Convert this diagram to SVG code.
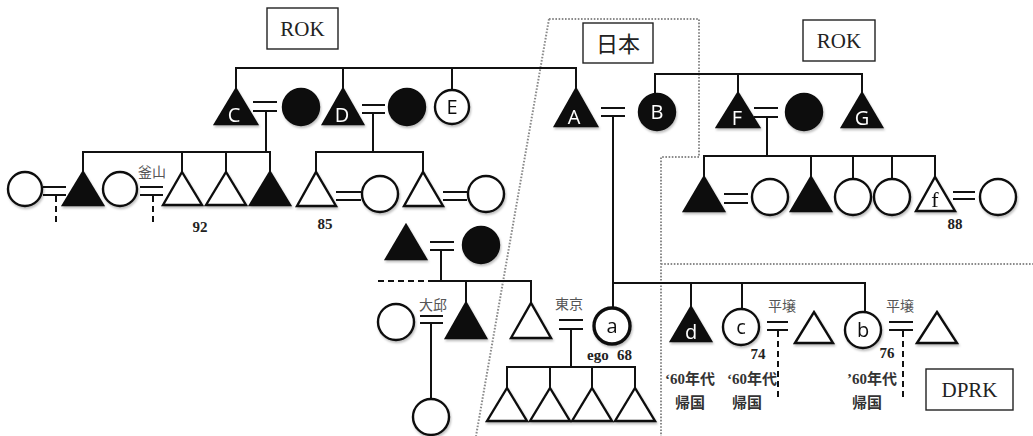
<svg xmlns="http://www.w3.org/2000/svg" width="1033" height="436" viewBox="0 0 1033 436">
  <style>
    .tri, .cir { stroke: #111; stroke-width: 2.4; }
    .f { fill: #111; }
    .o { fill: #fff; }
    .shapes { filter: url(#soft); }
    .ln { stroke: #111; stroke-width: 2; fill: none; }
    .dash { stroke: #111; stroke-width: 2; stroke-dasharray: 6 4; fill: none; }
    .dot { stroke: #8a8a8a; stroke-width: 2; stroke-dasharray: 1.6 1.6; fill: none; }
    .box { fill: #fff; stroke: #222; stroke-width: 1.4; }
    .boxt { font-family: "Liberation Serif", serif; font-size: 21px; fill: #222; text-anchor: middle; }
    .let { font-family: "Open Sans", "Liberation Sans", sans-serif; font-size: 20px; text-anchor: middle; }
    .wl { fill: #fff; }
    .bl { fill: #111; }
    .num { font-family: "Liberation Serif", serif; font-weight: bold; font-size: 15px; fill: #222; text-anchor: middle; }
    .st { text-anchor: start; }
    .en { text-anchor: end; }
    .place { font-family: "Noto Sans CJK JP", sans-serif; font-size: 14px; fill: #555; text-anchor: middle; }
    .ret { font-family: "Liberation Serif", "Noto Sans CJK JP", serif; font-weight: bold; font-size: 15px; fill: #333; text-anchor: middle; }
  </style>
  <defs>
    <filter id="soft" x="-20%" y="-20%" width="140%" height="150%">
      <feDropShadow dx="1" dy="2" stdDeviation="1.3" flood-color="#000" flood-opacity="0.25"/>
    </filter>
  </defs>
  <rect width="1033" height="436" fill="#fff"/>

  <!-- country borders -->
  <g id="borders">
    <path class="dot" d="M549 19 L476 436"/>
    <path class="dot" d="M549 19 H699 V157 H661 V436"/>
    <path class="dot" d="M661 264 H1033"/>
  </g>

  <!-- country labels -->
  <g id="label-rok-left"><rect class="box" x="267" y="8" width="71" height="41"/><text class="boxt" x="302.5" y="36">ROK</text></g>
  <g id="label-japan"><rect class="box" x="583" y="23" width="70" height="40"/><text x="618" y="52" font-family="'Noto Sans CJK JP', sans-serif" font-size="22" fill="#222" text-anchor="middle">日本</text></g>
  <g id="label-rok-right"><rect class="box" x="803" y="20" width="72" height="41"/><text class="boxt" x="839" y="48">ROK</text></g>
  <g id="label-dprk"><rect class="box" x="926" y="369" width="87" height="41"/><text class="boxt" x="969.5" y="397">DPRK</text></g>

  <!-- kinship lines -->
  <g id="connectors">
    <!-- siblings C, D, E, A -->
    <path class="ln" d="M236 89 V68 H576 V89 M343 68 V89 M452 68 V90"/>
    <!-- C marriage and children -->
    <path class="ln" d="M253 102 H277 M253 111 H277 M266 111 V152"/>
    <path class="ln" d="M83 172 V152 H270 V172 M182 152 V172 M226 152 V172"/>
    <path class="ln" d="M43 187 H66 M43 195 H66 M140 187 H163 M140 195 H163"/>
    <path class="dash" d="M56 196 V222 M153 196 V222"/>
    <!-- D marriage and children -->
    <path class="ln" d="M362 105 H385 M362 113 H385 M373 113 V152"/>
    <path class="ln" d="M316 172 V152 H423 V172"/>
    <path class="ln" d="M336 192 H361 M336 200 H361 M443 192 H467 M443 200 H467"/>
    <!-- A, B marriage and children -->
    <path class="ln" d="M601 108 H625 M601 116 H625 M613 116 V283 H865 V312 M691 283 V307 M742 283 V309 M613 283 V308"/>
    <!-- siblings B, F, G -->
    <path class="ln" d="M655 94 V74 H862 V93 M738 74 V93"/>
    <!-- F marriage and children -->
    <path class="ln" d="M754 108 H778 M754 117 H778 M767 117 V156"/>
    <path class="ln" d="M704 177 V156 H935 V177 M811 156 V177 M853 156 V179 M892 156 V179"/>
    <path class="ln" d="M724 194 H748 M724 203 H748 M953 192 H975 M953 199 H975"/>
    <!-- middle couple and children -->
    <path class="ln" d="M430 242 H454 M430 250 H454 M441 250 V281"/>
    <path class="dash" d="M378 281 H430"/>
    <path class="ln" d="M430 281 H531 V303 M466 281 V303"/>
    <path class="ln" d="M420 316 H443 M420 323 H443 M431 323 V399"/>
    <!-- ego marriage and children -->
    <path class="ln" d="M559 320 H583 M559 329 H583 M571 329 V367"/>
    <path class="ln" d="M507 388 V367 H635 V388 M550 367 V388 M592 367 V388"/>
    <!-- c, b marriages -->
    <path class="ln" d="M767 322 H788 M767 330 H788 M889 322 H913 M889 330 H913"/>
    <path class="dash" d="M778 331 V398 M903 331 V398"/>
  </g>

  <g class="shapes">
    <!-- generation 1 -->
    <g id="C"><polygon class="tri f" points="215,124 236,89 257,124"/><text class="let wl" x="234" y="122">C</text></g>
    <g id="C-wife"><circle class="cir f" cx="301" cy="107" r="18"/></g>
    <g id="D"><polygon class="tri f" points="323,124 343,89 363,124"/><text class="let wl" x="342" y="122">D</text></g>
    <g id="D-wife"><circle class="cir f" cx="407" cy="107" r="18"/></g>
    <g id="E"><circle class="cir o" cx="452" cy="107" r="17"/><text class="let bl" x="452" y="114">E</text></g>
    <g id="A"><polygon class="tri f" points="555,126 576,89 597,126"/><text class="let wl" x="574" y="124">A</text></g>
    <g id="B"><circle class="cir f" cx="657" cy="112" r="18"/><text class="let wl" x="657" y="119">B</text></g>
    <g id="F"><polygon class="tri f" points="717,127 738,93 759,127"/><text class="let wl" x="737" y="125">F</text></g>
    <g id="F-wife"><circle class="cir f" cx="804" cy="112" r="18"/></g>
    <g id="G"><polygon class="tri f" points="842,127 862,93 882,127"/><text class="let wl" x="862" y="125">G</text></g>

    <!-- C's children and spouses -->
    <g id="c1-wife"><circle class="cir o" cx="25" cy="189" r="17"/></g>
    <g id="c1"><polygon class="tri f" points="63,205 83,172 103,205"/></g>
    <g id="c2-wife"><circle class="cir o" cx="120" cy="189" r="17"/></g>
    <g id="c2"><polygon class="tri o" points="163,205 182,172 202,205"/></g>
    <g id="c3"><polygon class="tri o" points="206,205 226,172 246,205"/></g>
    <g id="c4"><polygon class="tri f" points="250,205 270,172 290,205"/></g>

    <!-- D's children and spouses -->
    <g id="d1"><polygon class="tri o" points="297,206 316,172 336,206"/></g>
    <g id="d1-wife"><circle class="cir o" cx="380" cy="194" r="18"/></g>
    <g id="d2"><polygon class="tri o" points="404,206 423,172 443,206"/></g>
    <g id="d2-wife"><circle class="cir o" cx="486" cy="194" r="18"/></g>

    <!-- F's children and spouses -->
    <g id="f1"><polygon class="tri f" points="684,211 704,177 724,211"/></g>
    <g id="f1-wife"><circle class="cir o" cx="770" cy="197" r="18"/></g>
    <g id="f2"><polygon class="tri f" points="791,211 811,177 831,211"/></g>
    <g id="f3"><circle class="cir o" cx="853" cy="197" r="18"/></g>
    <g id="f4"><circle class="cir o" cx="892" cy="197" r="18"/></g>
    <g id="f"><polygon class="tri o" points="916,211 935,177 955,211"/><text x="935" y="207" font-family="'Liberation Serif', serif" font-size="22" fill="#111" text-anchor="middle">f</text></g>
    <g id="f-wife"><circle class="cir o" cx="998" cy="197" r="18"/></g>

    <!-- middle couple -->
    <g id="m-husband"><polygon class="tri f" points="386,259 406,225 426,259"/></g>
    <g id="m-wife"><circle class="cir f" cx="481" cy="245" r="18"/></g>
    <g id="m1-wife"><circle class="cir o" cx="396" cy="322" r="18"/></g>
    <g id="m1"><polygon class="tri f" points="446,338 466,303 486,338"/></g>
    <g id="m1-child"><circle class="cir o" cx="431" cy="417" r="18"/></g>
    <g id="ego-husband"><polygon class="tri o" points="511,338 531,303 551,338"/></g>

    <!-- A's children -->
    <g id="a"><circle cx="612" cy="326" r="18" fill="#fff" stroke="#111" stroke-width="3.4"/><text class="let bl" x="612" y="333">a</text></g>
    <g id="e1"><polygon class="tri o" points="487,421 507,388 527,421"/></g>
    <g id="e2"><polygon class="tri o" points="530,421 550,388 570,421"/></g>
    <g id="e3"><polygon class="tri o" points="572,421 592,388 612,421"/></g>
    <g id="e4"><polygon class="tri o" points="615,421 635,388 655,421"/></g>
    <g id="d"><polygon class="tri f" points="671,341 691,307 711,341"/><text class="let wl" x="691" y="339">d</text></g>
    <g id="c"><circle class="cir o" cx="741" cy="327" r="18"/><text class="let bl" x="741" y="334">c</text></g>
    <g id="c-husband"><polygon class="tri o" points="795,343 814,312 833,343"/></g>
    <g id="b"><circle class="cir o" cx="863" cy="330" r="18"/><text class="let bl" x="863" y="337">b</text></g>
    <g id="b-husband"><polygon class="tri o" points="917,343 937,312 957,343"/></g>
  </g>

  <!-- annotations -->
  <g id="notes">
    <text class="place" x="152" y="177">釜山</text>
    <text class="num" x="200" y="232">92</text>
    <text class="num" x="325" y="229">85</text>
    <text class="num" x="955" y="229">88</text>
    <text class="place" x="433" y="310">大邱</text>
    <text class="place" x="569" y="309">東京</text>
    <text class="num st" x="587" y="360">ego</text>
    <text class="num en" x="632" y="360">68</text>
    <text class="place" x="782" y="311">平壌</text>
    <text class="place" x="900" y="311">平壌</text>
    <text class="num" x="758" y="359">74</text>
    <text class="num" x="887" y="358">76</text>
    <text class="ret" x="690" y="384">‘60年代</text>
    <text class="ret" x="690" y="408">帰国</text>
    <text class="ret" x="752" y="384">‘60年代</text>
    <text class="ret" x="747" y="408">帰国</text>
    <text class="ret" x="872" y="384">’60年代</text>
    <text class="ret" x="867" y="408">帰国</text>
  </g>
</svg>
